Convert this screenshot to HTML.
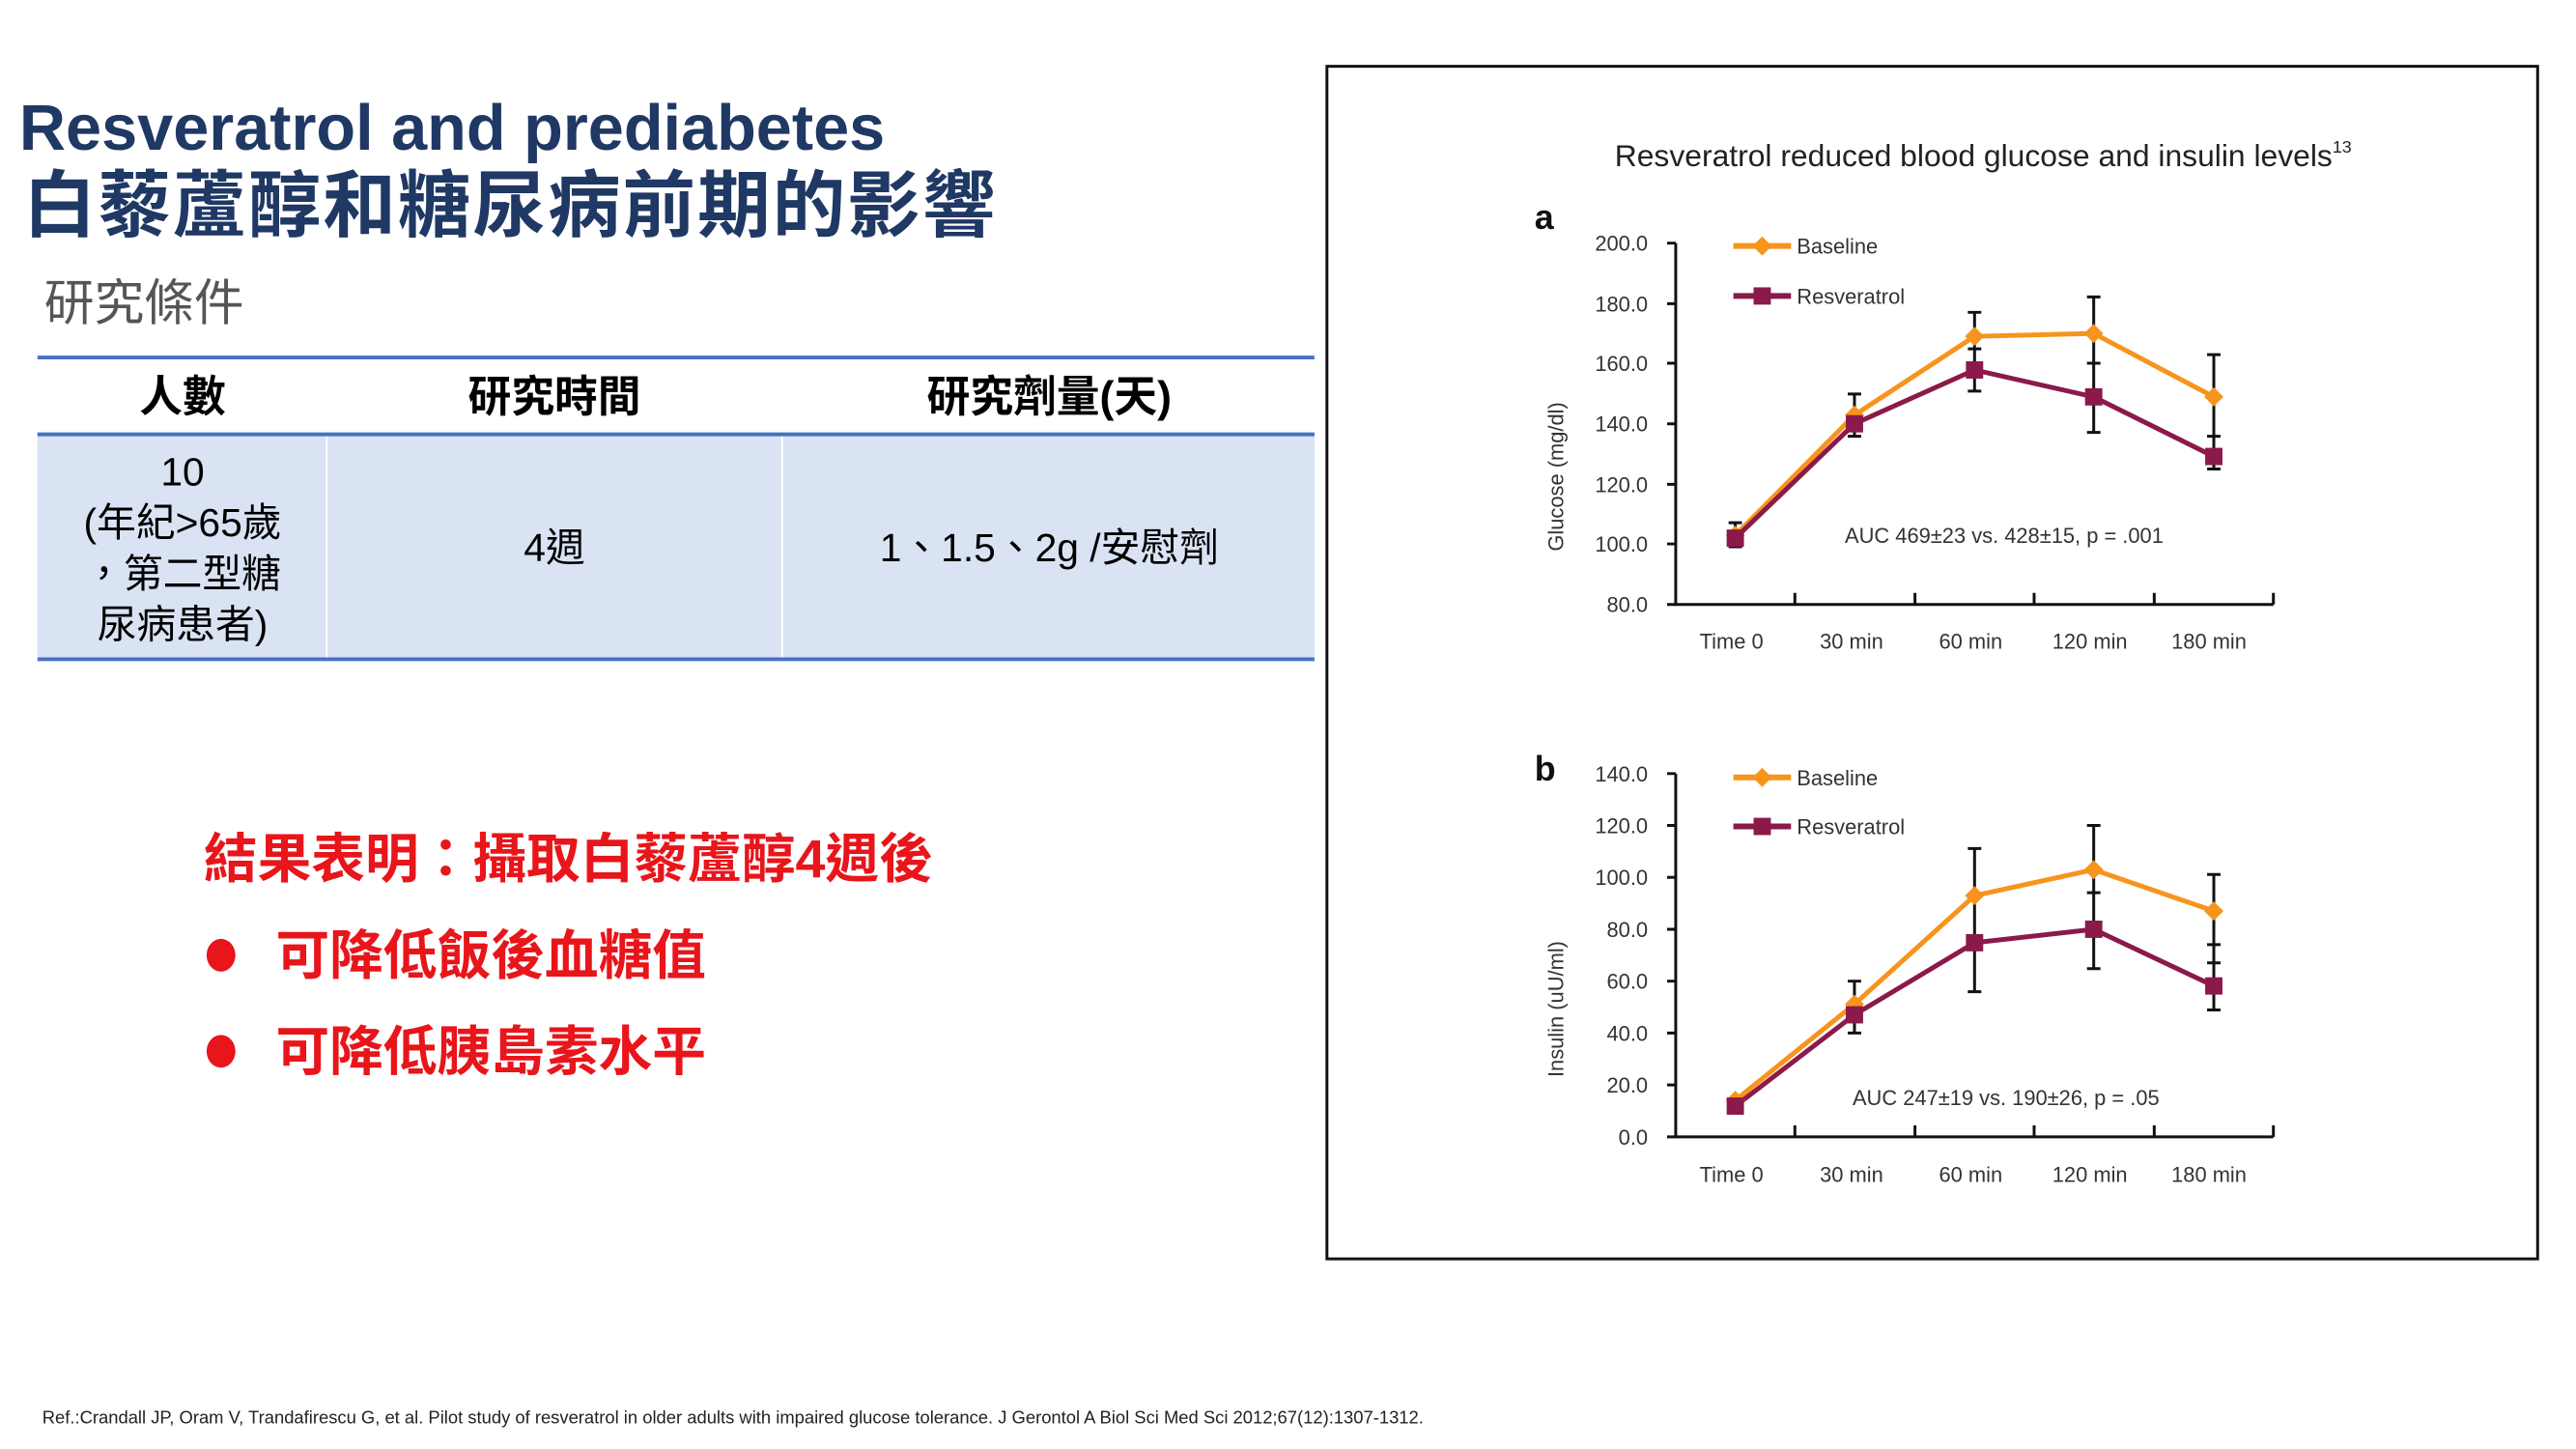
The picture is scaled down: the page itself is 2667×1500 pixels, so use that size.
<!DOCTYPE html>
<html><head><meta charset="utf-8"><style>
html,body{margin:0;padding:0;background:#fff}
svg{display:block}
.cj{font-family:"Liberation Sans","Noto Sans CJK TC",sans-serif}
.ax{font-family:"Liberation Sans",sans-serif;font-size:22px;fill:#333}
</style></head><body>
<svg width="2667" height="1500" viewBox="0 0 2667 1500" xmlns="http://www.w3.org/2000/svg">
<rect width="2667" height="1500" fill="#fff"/>
<g transform="scale(0.9948)">
<!-- left titles -->
<text x="20" y="156" font-family="Liberation Sans,sans-serif" font-weight="bold" font-size="67" fill="#1f3864">Resveratrol and prediabetes</text>
<text x="24" y="240" class="cj" font-weight="bold" font-size="76" fill="#1f3864" letter-spacing="2">白藜蘆醇和糖尿病前期的影響</text>
<text x="46" y="333" class="cj" font-size="52" fill="#555">研究條件</text>
<!-- table -->
<rect x="39" y="451" width="1329" height="235" fill="#dae3f3"/>
<line x1="340" y1="451" x2="340" y2="686" stroke="#fff" stroke-width="2"/>
<line x1="814" y1="451" x2="814" y2="686" stroke="#fff" stroke-width="2"/>
<line x1="39" y1="372" x2="1368" y2="372" stroke="#4472c4" stroke-width="4"/>
<line x1="39" y1="452" x2="1368" y2="452" stroke="#4472c4" stroke-width="4"/>
<line x1="39" y1="686" x2="1368" y2="686" stroke="#4472c4" stroke-width="4"/>
<g class="cj" font-weight="bold" font-size="45" fill="#000" text-anchor="middle">
<text x="190" y="428">人數</text><text x="577" y="428">研究時間</text><text x="1092" y="428">研究劑量(天)</text>
</g>
<g class="cj" font-size="41" fill="#000" text-anchor="middle">
<text x="190" y="505">10</text>
<text x="190" y="558">(年紀&gt;65歲</text>
<text x="190" y="611">，第二型糖</text>
<text x="190" y="664">尿病患者)</text>
<text x="577" y="584">4週</text>
<text x="1092" y="584">1、1.5、2g /安慰劑</text>
</g>
<!-- red results -->
<g class="cj" font-weight="bold" font-size="56" fill="#e8151b">
<text x="212" y="913">結果表明：攝取白藜蘆醇4週後</text>
<text x="287" y="1014">可降低飯後血糖值</text>
<text x="287" y="1114">可降低胰島素水平</text>
</g>
<ellipse cx="230" cy="994" rx="15" ry="17" fill="#e8151b"/>
<ellipse cx="230" cy="1094" rx="15" ry="17" fill="#e8151b"/>
<text x="44" y="1481" font-family="Liberation Sans,sans-serif" font-size="18.5" fill="#222">Ref.:Crandall JP, Oram V, Trandafirescu G, et al. Pilot study of resveratrol in older adults with impaired glucose tolerance. J Gerontol A Biol Sci Med Sci 2012;67(12):1307-1312.</text>
<!-- chart box -->
<rect x="1381" y="69" width="1260" height="1241" fill="none" stroke="#111" stroke-width="3"/>
<text x="2064" y="173" text-anchor="middle" font-family="Liberation Sans,sans-serif" font-size="32" fill="#222">Resveratrol reduced blood glucose and insulin levels<tspan font-size="18" dy="-14">13</tspan></text>
<text x="1597" y="238" font-family="Liberation Sans,sans-serif" font-weight="bold" font-size="36" fill="#111">a</text>
<text x="1597" y="812" font-family="Liberation Sans,sans-serif" font-weight="bold" font-size="36" fill="#111">b</text>
<!-- chart a axes -->
<g stroke="#111" stroke-width="3" fill="none">
<path d="M1744 253 V629 H2366"/>
<path d="M1735 253H1744M1735 316H1744M1735 378H1744M1735 441H1744M1735 504H1744M1735 566H1744M1735 629H1744"/>
<path d="M1868 629V617M1993 629V617M2117 629V617M2242 629V617M2366 629V617"/>
<path d="M1744 805 V1183 H2366"/>
<path d="M1735 805H1744M1735 859H1744M1735 913H1744M1735 967H1744M1735 1021H1744M1735 1075H1744M1735 1129H1744M1735 1183H1744"/>
<path d="M1868 1183V1171M1993 1183V1171M2117 1183V1171M2242 1183V1171M2366 1183V1171"/>
</g>
<g class="ax" text-anchor="end">
<text x="1715" y="261">200.0</text><text x="1715" y="324">180.0</text><text x="1715" y="386">160.0</text><text x="1715" y="449">140.0</text><text x="1715" y="512">120.0</text><text x="1715" y="574">100.0</text><text x="1715" y="637">80.0</text>
<text x="1715" y="813">140.0</text><text x="1715" y="867">120.0</text><text x="1715" y="921">100.0</text><text x="1715" y="975">80.0</text><text x="1715" y="1029">60.0</text><text x="1715" y="1083">40.0</text><text x="1715" y="1137">20.0</text><text x="1715" y="1191">0.0</text>
</g>
<g class="ax" text-anchor="middle">
<text x="1802" y="675">Time 0</text><text x="1927" y="675">30 min</text><text x="2051" y="675">60 min</text><text x="2175" y="675">120 min</text><text x="2299" y="675">180 min</text>
<text x="1802" y="1230">Time 0</text><text x="1927" y="1230">30 min</text><text x="2051" y="1230">60 min</text><text x="2175" y="1230">120 min</text><text x="2299" y="1230">180 min</text>
<text transform="translate(1627,496) rotate(-90)">Glucose (mg/dl)</text>
<text transform="translate(1627,1050) rotate(-90)">Insulin (uU/ml)</text>
</g>
<text x="1920" y="565" class="ax">AUC 469±23 vs. 428±15,  p = .001</text>
<text x="1928" y="1150" class="ax">AUC 247±19 vs. 190±26,  p = .05</text>
<!-- legends -->
<g stroke-width="6">
<line x1="1804" y1="256" x2="1864" y2="256" stroke="#f7941d"/><line x1="1804" y1="308" x2="1864" y2="308" stroke="#8b1a4a"/>
<line x1="1804" y1="809" x2="1864" y2="809" stroke="#f7941d"/><line x1="1804" y1="860" x2="1864" y2="860" stroke="#8b1a4a"/>
</g>
<path d="M1834 246l10 10-10 10-10-10z M1834 799l10 10-10 10-10-10z" fill="#f7941d"/>
<rect x="1825" y="299" width="18" height="18" fill="#8b1a4a"/><rect x="1825" y="851" width="18" height="18" fill="#8b1a4a"/>
<g class="ax"><text x="1870" y="264">Baseline</text><text x="1870" y="316">Resveratrol</text><text x="1870" y="817">Baseline</text><text x="1870" y="868">Resveratrol</text></g>
<!-- error bars -->
<g stroke="#111" stroke-width="3">
<path d="M1806 544V569M1799 544H1813M1799 569H1813"/>
<path d="M1930 410V454M1923 410H1937M1923 454H1937"/>
<path d="M2055 325V407M2048 325H2062M2048 407H2062M2048 363H2062"/>
<path d="M2179 309V450M2172 309H2186M2172 450H2186M2172 378H2186"/>
<path d="M2304 369V488M2297 369H2311M2297 488H2311M2297 454H2311"/>
<path d="M1930 1021V1075M1923 1021H1937M1923 1075H1937"/>
<path d="M2055 883V1032M2048 883H2062M2048 1032H2062"/>
<path d="M2179 859V1008M2172 859H2186M2172 1008H2186M2172 929H2186"/>
<path d="M2304 910V1051M2297 910H2311M2297 1051H2311M2297 983H2311M2297 1002H2311"/>
</g>
<!-- series -->
<g fill="none" stroke-width="5" stroke-linejoin="round">
<polyline points="1806,557 1930,432 2055,350 2179,347 2304,413" stroke="#f7941d"/>
<polyline points="1806,560 1930,441 2055,385 2179,413 2304,475" stroke="#8b1a4a"/>
<polyline points="1806,1145 1930,1045 2055,932 2179,905 2304,948" stroke="#f7941d"/>
<polyline points="1806,1151 1930,1056 2055,981 2179,967 2304,1026" stroke="#8b1a4a"/>
</g>
<g fill="#f7941d">
<path d="M1806 547l10 10-10 10-10-10zM1930 422l10 10-10 10-10-10zM2055 340l10 10-10 10-10-10zM2179 337l10 10-10 10-10-10zM2304 403l10 10-10 10-10-10z"/>
<path d="M1806 1135l10 10-10 10-10-10zM1930 1035l10 10-10 10-10-10zM2055 922l10 10-10 10-10-10zM2179 895l10 10-10 10-10-10zM2304 938l10 10-10 10-10-10z"/>
</g>
<g fill="#8b1a4a">
<rect x="1797" y="551" width="18" height="18"/><rect x="1921" y="432" width="18" height="18"/><rect x="2046" y="376" width="18" height="18"/><rect x="2170" y="404" width="18" height="18"/><rect x="2295" y="466" width="18" height="18"/>
<rect x="1797" y="1142" width="18" height="18"/><rect x="1921" y="1047" width="18" height="18"/><rect x="2046" y="972" width="18" height="18"/><rect x="2170" y="958" width="18" height="18"/><rect x="2295" y="1017" width="18" height="18"/>
</g>
</g>
</svg>
</body></html>
